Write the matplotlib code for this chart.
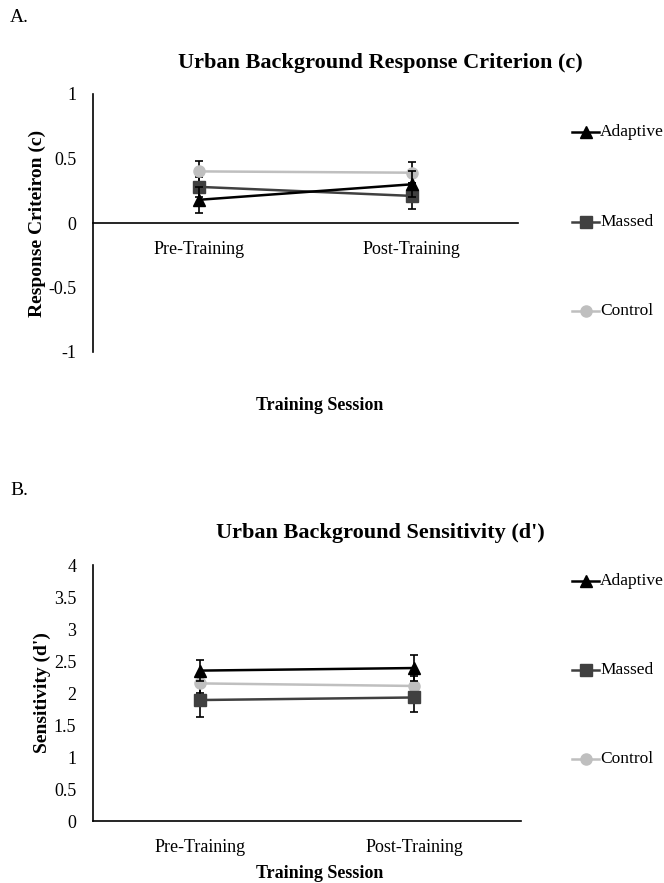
import matplotlib
matplotlib.use("Agg")
import matplotlib.pyplot as plt

plt.rcParams["font.family"] = ["Liberation Serif", "DejaVu Serif"]

sessions = ["Pre-Training", "Post-Training"]
groups = ["Adaptive", "Massed", "Control"]

# panel A: response criterion (c)
crit_mean = {"Adaptive": [0.18, 0.30], "Massed": [0.28, 0.21], "Control": [0.40, 0.39]}
crit_err = {"Adaptive": [0.10, 0.10], "Massed": [0.08, 0.10], "Control": [0.08, 0.08]}

# panel B: sensitivity (d')
sens_mean = {"Adaptive": [2.35, 2.39], "Massed": [1.89, 1.93], "Control": [2.15, 2.11]}
sens_err = {"Adaptive": [0.17, 0.21], "Massed": [0.26, 0.22], "Control": [0.15, 0.15]}

styles = {
    "Adaptive": dict(color="black", marker="^", ms=8),
    "Massed": dict(color="#404040", marker="s", ms=8),
    "Control": dict(color="#bfbfbf", marker="o", ms=8),
}
draw_order = ["Control", "Massed", "Adaptive"]

W, H = 664, 883
fig = plt.figure(figsize=(W / 100, H / 100), dpi=100)


def fbox(left, top, right, bottom):
    return [left / W, 1 - bottom / H, (right - left) / W, (bottom - top) / H]


def panel(box, means, errs, ylim, yticks, yticklabels, ylabel, ylabel_x, title, title_y,
          xlabel_y, leg_ys, letter, letter_y, zero_axis):
    ax = fig.add_axes(fbox(*box))
    if zero_axis:
        ax.spines["bottom"].set_position(("data", 0))
    x = list(range(len(sessions)))
    for g in draw_order:
        st = styles[g]
        ax.errorbar(x, means[g], yerr=errs[g], color=st["color"], marker=st["marker"],
                    ms=st["ms"], lw=1.8, elinewidth=1.2, ecolor="black", capsize=3,
                    capthick=1.2, zorder=3 if g == "Adaptive" else 2)
    ax.set_xlim(-0.5, 1.5)
    ax.set_ylim(*ylim)
    ax.set_yticks(yticks)
    ax.set_yticklabels(yticklabels)
    ax.set_xticks(x)
    ax.set_xticklabels(sessions)
    ax.tick_params(length=0, labelsize=13)
    ax.tick_params(axis="y", pad=12)
    ax.tick_params(axis="x", pad=13)
    for s in ("top", "right"):
        ax.spines[s].set_visible(False)
    for s in ("left", "bottom"):
        ax.spines[s].set_linewidth(1.2)
    ax.set_ylabel(ylabel, fontsize=14, fontweight="bold", va="center")
    ax.yaxis.set_label_coords((ylabel_x - box[0]) / (box[2] - box[0]), 0.5)

    fig.text(380 / W, 1 - title_y / H, title, ha="center", va="center",
             fontsize=16, fontweight="bold")
    fig.text(320 / W, 1 - xlabel_y / H, "Training Session", ha="center", va="center",
             fontsize=13, fontweight="bold")
    fig.text(10 / W, 1 - letter_y / H, letter, ha="left", va="center", fontsize=14)

    for g, ly in zip(groups, leg_ys):
        st = styles[g]
        yf = 1 - ly / H
        fig.add_artist(plt.Line2D([572 / W, 599 / W], [yf, yf], color=st["color"], lw=1.8))
        fig.add_artist(plt.Line2D([585.5 / W], [yf], color=st["color"], marker=st["marker"],
                                  ms=st["ms"], lw=0))
        fig.text(600 / W, yf, g, ha="left", va="center", fontsize=12.5)
    return ax


panel((93, 94, 518, 352), crit_mean, crit_err, (-1, 1), [-1, -0.5, 0, 0.5, 1],
      ["-1", "-0.5", "0", "0.5", "1"], "Response Criteiron (c)", 37,
      "Urban Background Response Criterion (c)", 63, 405, (132, 222, 311), "A.", 18, True)

panel((93, 565, 521, 821), sens_mean, sens_err, (0, 4), [0, 0.5, 1, 1.5, 2, 2.5, 3, 3.5, 4],
      ["0", "0.5", "1", "1.5", "2", "2.5", "3", "3.5", "4"], "Sensitivity (d')", 42,
      "Urban Background Sensitivity (d')", 533, 873, (581, 670, 759), "B.", 490, False)

fig.savefig("out.png", dpi=100, facecolor="white")
